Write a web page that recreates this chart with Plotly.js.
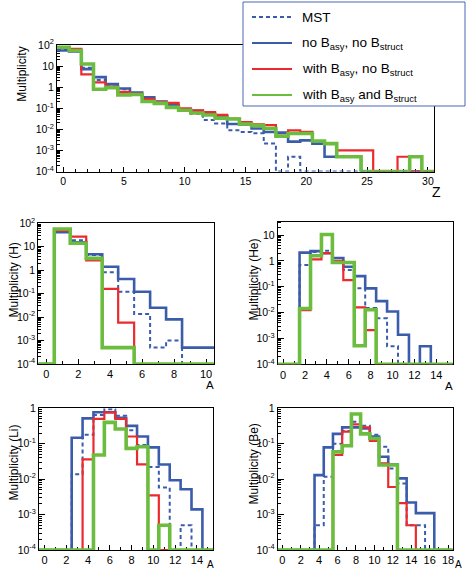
<!DOCTYPE html>
<html>
<head>
<meta charset="utf-8">
<script src="https://cdn.plot.ly/plotly-3.0.1.min.js"></script>
<style>html,body{margin:0;padding:0;background:#fff;}#chart{width:469px;height:569px;}</style>
</head>
<body>
<div id="chart"></div>
<script>
// ---------------- data ----------------
// Top panel: charge distribution
const Z = [0,1,2,3,4,5,6,7,8,9,10,11,12,13,14,15,16,17,18,19,20,21,22,23,24,25,26,27,28,29,30];
const mstZ   = [60,55,8.3,2.2,1.3,0.8,0.5,0.32,0.2,0.12,0.075,0.055,0.028,0.019,0.009,0.0075,0.0065,0.0021,0,0.0005,0,0,0,0,0,0,0,0,0,0,0];
const noBZ   = [55,50,7.2,3.0,1.4,0.87,0.55,0.33,0.21,0.14,0.09,0.075,0.055,0.042,0.018,0.017,0.011,0.0075,0.007,0.0026,0.003,0.0021,0.0005,0.0005,0.0005,0,0,0,0,0,0];
const asyZ   = [75,65,4.0,1.7,1.05,0.6,0.5,0.28,0.2,0.18,0.1,0.08,0.065,0.048,0.032,0.022,0.017,0.016,0.005,0.009,0.0075,0.0028,0.0022,0.001,0.001,0.001,0,0,0.0005,0,0];
const asyStZ = [78,55,12.5,0.8,0.95,0.43,0.45,0.21,0.17,0.11,0.08,0.06,0.048,0.034,0.031,0.018,0.015,0.011,0.0047,0.0063,0.0063,0.0028,0.0021,0.0005,0.0005,0,0,0,0,0.0005,0];

// H isotopes
const A_H     = [0,1,2,3,4,5,6,7,8,9,10];
const mstH    = [0,45,19,4.4,0.81,0.12,0.0135,0.0005,0.001,0,0];
const noBH    = [0,42,15.5,4.8,1.4,0.42,0.12,0.025,0.008,0.0005,0.0005];
const asyH    = [0,48,27,2.6,0.16,0.0058,0,0,0,0,0];
const asyStH  = [0,57,14,3.2,0.0005,0.0005,0,0,0,0,0];

// He isotopes
const A_He    = [0,1,2,3,4,5,6,7,8,9,10,11,12,13,14,15];
const mstHe   = [0,0,0.7,2.2,2.5,1.0,0.45,0.087,0.015,0.006,0.0005,0,0,0,0,0];
const noBHe   = [0,0,2.1,2.4,2.0,1.3,0.6,0.26,0.087,0.028,0.011,0.0014,0,0.0005,0,0];
const asyHe   = [0,0,0.0126,1.15,2.0,1.0,0.18,0.016,0.0021,0,0,0,0,0,0,0];
const asyStHe = [0,0,0.0145,1.6,10.6,0.87,0.87,0.00052,0.013,0,0,0,0,0,0,0];

// Li isotopes
const A_Li    = [0,1,2,3,4,5,6,7,8,9,10,11,12,13,14,15];
const mstLi   = [0,0,0,0.0138,0.18,0.65,0.94,0.62,0.24,0.092,0.022,0.0058,0,0.0005,0,0];
const noBLi   = [0,0,0,0.148,0.52,0.77,0.77,0.54,0.32,0.16,0.079,0.026,0.0093,0.0052,0.0014,0];
const asyLi   = [0,0,0,0,0.036,0.5,0.77,0.5,0.16,0.026,0.0035,0,0,0,0,0];
const asyStLi = [0,0,0,0,0,0.048,0.4,0.26,0.074,0.082,0,0.0005,0,0,0,0];

// Be isotopes
const A_Be    = [0,1,2,3,4,5,6,7,8,9,10,11,12,13,14,15,16,17,18];
const mstBe   = [0,0,0,0,0.0005,0.0117,0.1,0.23,0.42,0.32,0.18,0.082,0.02,0.0075,0.0005,0.0005,0,0,0];
const noBBe   = [0,0,0,0,0.013,0.079,0.19,0.29,0.29,0.27,0.16,0.043,0.026,0.0105,0.0022,0.0011,0.0011,0,0];
const asyBe   = [0,0,0,0,0,0,0.048,0.22,0.35,0.29,0.12,0.028,0.006,0.0021,0.0005,0,0,0,0];
const asyStBe = [0,0,0,0,0,0,0.059,0.088,0.69,0.19,0.14,0.025,0.025,0,0,0,0,0,0];

const seriesNames = ['MST', 'no B<sub>asy</sub>, no B<sub>struct</sub>', 'with B<sub>asy</sub>, no B<sub>struct</sub>', 'with B<sub>asy</sub> and B<sub>struct</sub>'];

// ---------------- style ----------------
const FONT = 'Liberation Sans, Arial, Helvetica, sans-serif';
const W = 469, H = 569;
const BLUE = '#3b5bab', RED = '#ec2a2e', GREEN = '#6cbd3f';
const styles = [
  {color: BLUE, width: 2, dash: '4px,3px'},
  {color: BLUE, width: 2.6, dash: 'solid'},
  {color: RED, width: 2.2, dash: 'solid'},
  {color: GREEN, width: 3.6, dash: 'solid'}
];
const FLOOR = 1e-4;

function hist(centers, vals, st, xa, ya) {
  const x = [], y = [];
  for (let i = 0; i < vals.length; i++) {
    x.push(centers[i] - 0.5);
    y.push(Math.max(vals[i], FLOOR));
  }
  x.push(centers[centers.length - 1] + 0.5);
  y.push(Math.max(vals[vals.length - 1], FLOOR));
  return {x, y, type: 'scatter', mode: 'lines', xaxis: xa, yaxis: ya,
    line: {shape: 'hv', color: st.color, width: st.width, dash: st.dash},
    hoverinfo: 'skip', showlegend: false};
}

const panels = [
  {c: Z, s: [mstZ, noBZ, asyZ, asyStZ], xa: 'x', ya: 'y'},
  {c: A_H, s: [mstH, noBH, asyH, asyStH], xa: 'x2', ya: 'y2'},
  {c: A_He, s: [mstHe, noBHe, asyHe, asyStHe], xa: 'x3', ya: 'y3'},
  {c: A_Li, s: [mstLi, noBLi, asyLi, asyStLi], xa: 'x4', ya: 'y4'},
  {c: A_Be, s: [mstBe, noBBe, asyBe, asyStBe], xa: 'x5', ya: 'y5'}
];
const traces = [];
panels.forEach(p => p.s.forEach((v, k) => traces.push(hist(p.c, v, styles[k], p.xa, p.ya))));

const px = v => v / W;
const py = v => 1 - v / H;

function xAxis(l, r, range, dtick, anchor, fs) {
  return {domain: [px(l), px(r)], range: range, dtick: dtick, tick0: 0, anchor: anchor,
    ticks: 'inside', ticklen: 5, tickwidth: 1, tickcolor: '#000',
    showline: true, linecolor: '#000', linewidth: 1, mirror: true,
    showgrid: false, zeroline: false, layer: 'below traces',
    tickfont: {family: FONT, size: fs, color: '#000'},
    minor: {dtick: 1, tick0: 0, ticks: 'inside', ticklen: 3, tickcolor: '#000', showgrid: false}};
}
function yAxis(top, bot, range, anchor) {
  const tv = [], tt = [], mv = [];
  for (let n = Math.ceil(range[0]); n <= Math.floor(range[1]); n++) {
    tv.push(Math.pow(10, n));
    tt.push(n === 0 ? '1' : n === 1 ? '10' : '10<sup>' + n + '</sup>');
  }
  for (let n = Math.floor(range[0]); n <= Math.ceil(range[1]); n++) {
    for (let k = 2; k <= 9; k++) {
      const v = k * Math.pow(10, n);
      if (Math.log10(v) > range[0] && Math.log10(v) < range[1]) mv.push(v);
    }
  }
  return {domain: [py(bot), py(top)], type: 'log', range: range, anchor: anchor,
    tickmode: 'array', tickvals: tv, ticktext: tt,
    ticks: 'inside', ticklen: 6, tickwidth: 1, tickcolor: '#000',
    showline: true, linecolor: '#000', linewidth: 1, mirror: true,
    showgrid: false, zeroline: false, layer: 'below traces',
    tickfont: {family: FONT, size: 10.5, color: '#000'},
    minor: {tickmode: 'array', tickvals: mv, ticks: 'inside', ticklen: 3, tickcolor: '#000', showgrid: false}};
}

const layout = {
  width: W, height: H, margin: {l: 0, r: 0, t: 0, b: 0},
  paper_bgcolor: '#fff', plot_bgcolor: '#fff', showlegend: false,
  font: {family: FONT, color: '#000'},
  xaxis:  xAxis(57, 434, [-0.5, 30.5], 5, 'y', 10.5),
  yaxis:  yAxis(45, 171.5, [-4, 2], 'x'),
  xaxis2: xAxis(38.3, 214, [-0.5, 10.5], 2, 'y2', 11),
  yaxis2: yAxis(223.3, 364, [-4, 2], 'x2'),
  xaxis3: xAxis(277.7, 452.7, [-0.5, 15.5], 2, 'y3', 11),
  yaxis3: yAxis(221.7, 364.3, [-4, 1.52], 'x3'),
  xaxis4: xAxis(39, 213.3, [-0.5, 15.5], 2, 'y4', 11),
  yaxis4: yAxis(408.3, 550, [-4, 0], 'x4'),
  xaxis5: xAxis(277.7, 452.7, [-0.5, 18.5], 2, 'y5', 11),
  yaxis5: yAxis(408.3, 550, [-4, 0], 'x5'),
  shapes: [],
  annotations: []
};

function ann(text, x, y, size, angle, xanchor) {
  layout.annotations.push({text: text, xref: 'paper', yref: 'paper', x: px(x), y: py(y),
    xanchor: xanchor || 'center', yanchor: 'middle', showarrow: false, textangle: angle || 0,
    font: {family: FONT, size: size, color: '#000'}});
}
// axis titles
ann('Multiplicity', 21.7, 74, 12, -90);
ann('Multiplicity (H)', 13.5, 280, 12, -90);
ann('Multiplicity (He)', 253.5, 280, 12, -90);
ann('Multiplicity (Li)', 13.5, 463, 12, -90);
ann('Multiplicity (Be)', 253.5, 464, 12, -90);
ann('Z', 436, 192, 14);
ann('A', 210, 385, 11.5);
ann('A', 449, 386, 11.5);
ann('A', 210, 564, 10);
ann('A', 458, 564, 10);

// legend box
layout.shapes.push({type: 'rect', xref: 'paper', yref: 'paper', x0: px(243), x1: px(465), y0: py(106), y1: py(2),
  fillcolor: '#fff', line: {color: '#4a66b5', width: 1}, layer: 'above'});
const legY = [17, 43, 69, 95];
styles.forEach((st, k) => {
  layout.shapes.push({type: 'line', xref: 'paper', yref: 'paper', x0: px(252), x1: px(292), y0: py(legY[k]), y1: py(legY[k]),
    line: {color: st.color, width: Math.min(st.width, 2.2), dash: st.dash}, layer: 'above'});
  ann(seriesNames[k], 300, legY[k], 13.5, 0, 'left');
});

Plotly.newPlot('chart', traces, layout, {displayModeBar: false, staticPlot: true});
</script>
</body>
</html>
